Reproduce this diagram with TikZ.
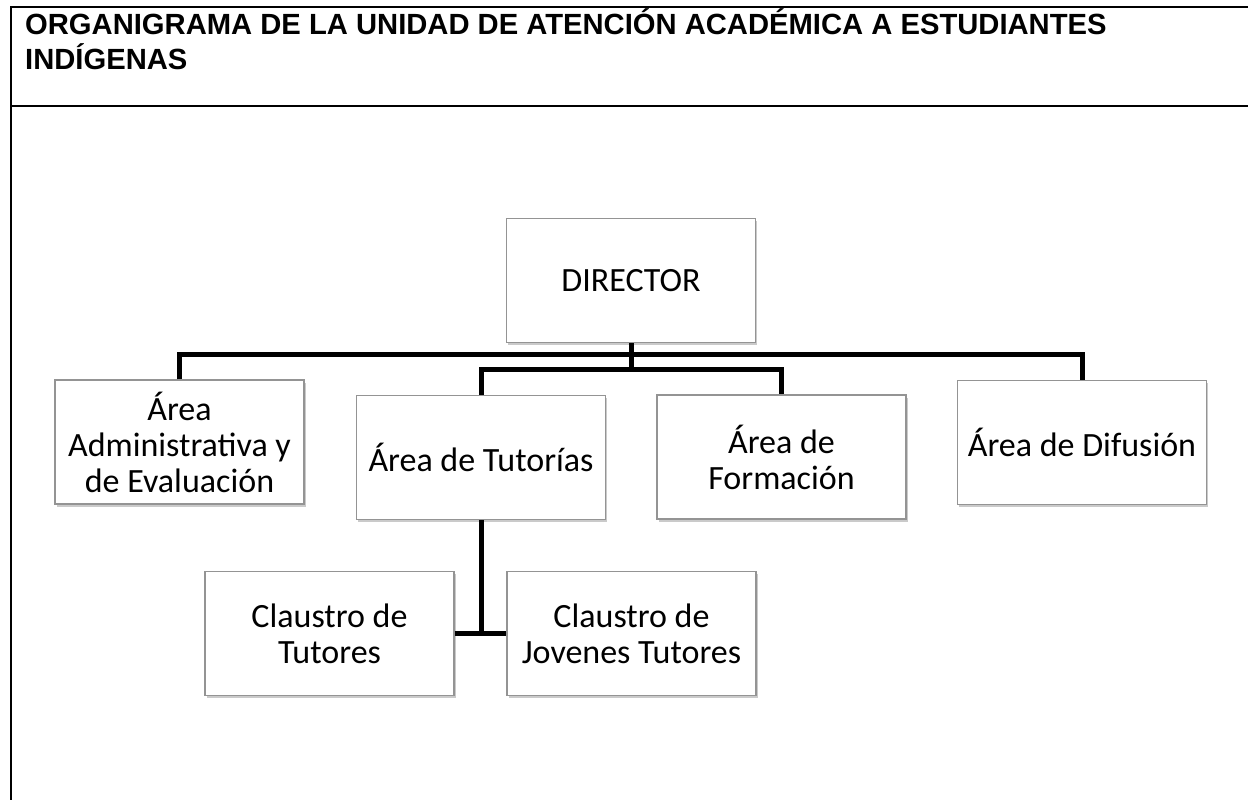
\documentclass[tikz,border=0pt]{standalone}
\usepackage{fontspec}
\setmainfont{Carlito}
\newfontfamily\titlefont{Liberation Sans}
\usetikzlibrary{shadows}

\tikzset{
  area/.style={draw=black!42, line width=1.3pt, fill=white, align=center,
    minimum width=249pt, minimum height=124pt, inner sep=0pt,
    font=\fontsize{34}{36}\selectfont,
    drop shadow={shadow xshift=1.5pt, shadow yshift=-2.5pt, opacity=0.35, fill=black!60}},
  conn/.style={line width=5pt, black, line join=miter},
  frame/.style={line width=2.5pt, black},
  titletext/.style={anchor=base west, inner sep=0pt, font=\titlefont\bfseries\fontsize{29.2}{35}\selectfont}
}

\begin{document}
\begin{tikzpicture}[x=1pt,y=-1pt]

    % page
    \useasboundingbox (0,0) rectangle (1248,800);

    % frame of the cell
    \coordinate (F1) at (11,800) ;
    \coordinate (F2) at (11,7) ;
    \coordinate (F3) at (1248,7) ;
    \coordinate (D1) at (11,106) ;
    \coordinate (D2) at (1248,106) ;
    \draw[frame] (F1) -- (F2) -- (F3) ;
    \draw[frame] (D1) -- (D2) ;

    % title
    \node[titletext] (title1) at (25,35) {ORGANIGRAMA DE LA UNIDAD DE ATENCIÓN ACADÉMICA A ESTUDIANTES};
    \node[titletext] (title2) at (25,70) {INDÍGENAS};

    % boxes
    \node[area] (dir)   at (631,280.5) {DIRECTOR};
    \node[area] (admin) at (179.5,442) {Área\\Administrativa y\\de Evaluación};
    \node[area] (tut)   at (481,457.5) {Área de Tutorías};
    \node[area] (form)  at (781.5,457) {Área de\\Formación};
    \node[area] (dif)   at (1082,442.5) {Área de Difusión};
    \node[area] (ctut)  at (329.5,633.5) {Claustro de\\Tutores};
    \node[area] (cjov)  at (631.5,633.5) {Claustro de\\Jovenes Tutores};

    % connectors
    \coordinate (bar) at (631,354) ;
    \coordinate (subbar) at (631,369) ;
    \draw[conn] (admin.north) |- (bar) -| (dif.north) ;
    \draw[conn] (dir.south) -- (subbar) ;
    \draw[conn] (tut.north) |- (subbar) -| (form.north) ;
    \draw[conn] (tut.south) -- (tut.south |- ctut.east) ;
    \draw[conn] (ctut.east) -- (cjov.west) ;

\end{tikzpicture}
\end{document}
